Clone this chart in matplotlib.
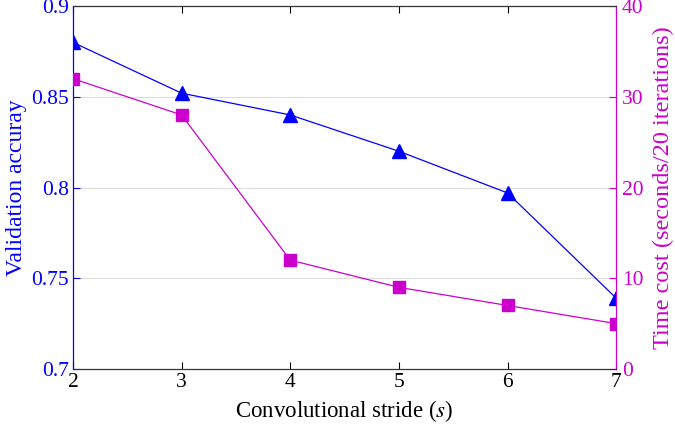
import numpy as np
from matplotlib import pyplot as plt

plt.rcParams['font.family'] = ['Liberation Serif', 'DejaVu Serif']
plt.rcParams['mathtext.fontset'] = 'stix'

stride = [2, 3, 4, 5, 6, 7]
accuracy = [0.880, 0.852, 0.840, 0.820, 0.797, 0.739]
time_cost = [32, 28, 12, 9, 7, 5]

blue = "#0000FF"
mag = "#CC00CC"

fig = plt.figure(figsize=(6.75, 4.24), dpi=100, facecolor="white")
ax = fig.add_axes([0.108, 0.1297, 0.805, 0.856])
ax2 = ax.twinx()

ax.plot(stride, accuracy, color=blue, lw=0.9, marker="^", ms=10.5, zorder=3)
ax2.plot(stride, time_cost, color=mag, lw=0.9, marker="s", ms=8, zorder=3)

ax.set_xlim(2, 7)
ax.set_ylim(0.7, 0.9)
ax2.set_ylim(0, 40)
ax.set_xticks(stride)
ax.set_yticks([0.7, 0.75, 0.8, 0.85, 0.9])
ax.set_yticklabels(["0.7", "0.75", "0.8", "0.85", "0.9"])
ax2.set_yticks([0, 10, 20, 30, 40])

ax.grid(axis="y", color="#DDDDDD", lw=0.8)
ax.set_axisbelow(True)

ax.tick_params(axis="x", direction="in", top=True, labelsize=15.5, colors="black", length=5, pad=3)
ax.tick_params(axis="y", direction="in", labelsize=15.5, colors=blue, length=5, pad=3)
ax2.tick_params(axis="y", direction="in", labelsize=15.5, colors=mag, length=5, pad=4)

ax.spines["left"].set_color(blue)
ax2.spines["left"].set_color(blue)
ax2.spines["right"].set_color(mag)
ax.spines["right"].set_color(mag)
for a in (ax, ax2):
    a.spines["top"].set_color("#333333")
    a.spines["bottom"].set_color("#333333")

ax.set_xlabel("Convolutional stride ($\\mathit{s}$)", fontsize=16.5, labelpad=4)
ax.set_ylabel("Validation accuray", fontsize=17, color=blue, labelpad=3)
ax2.set_ylabel("Time cost (seconds/20 iterations)", fontsize=17.5, color=mag, labelpad=7)

plt.savefig("out.png", dpi=100)
